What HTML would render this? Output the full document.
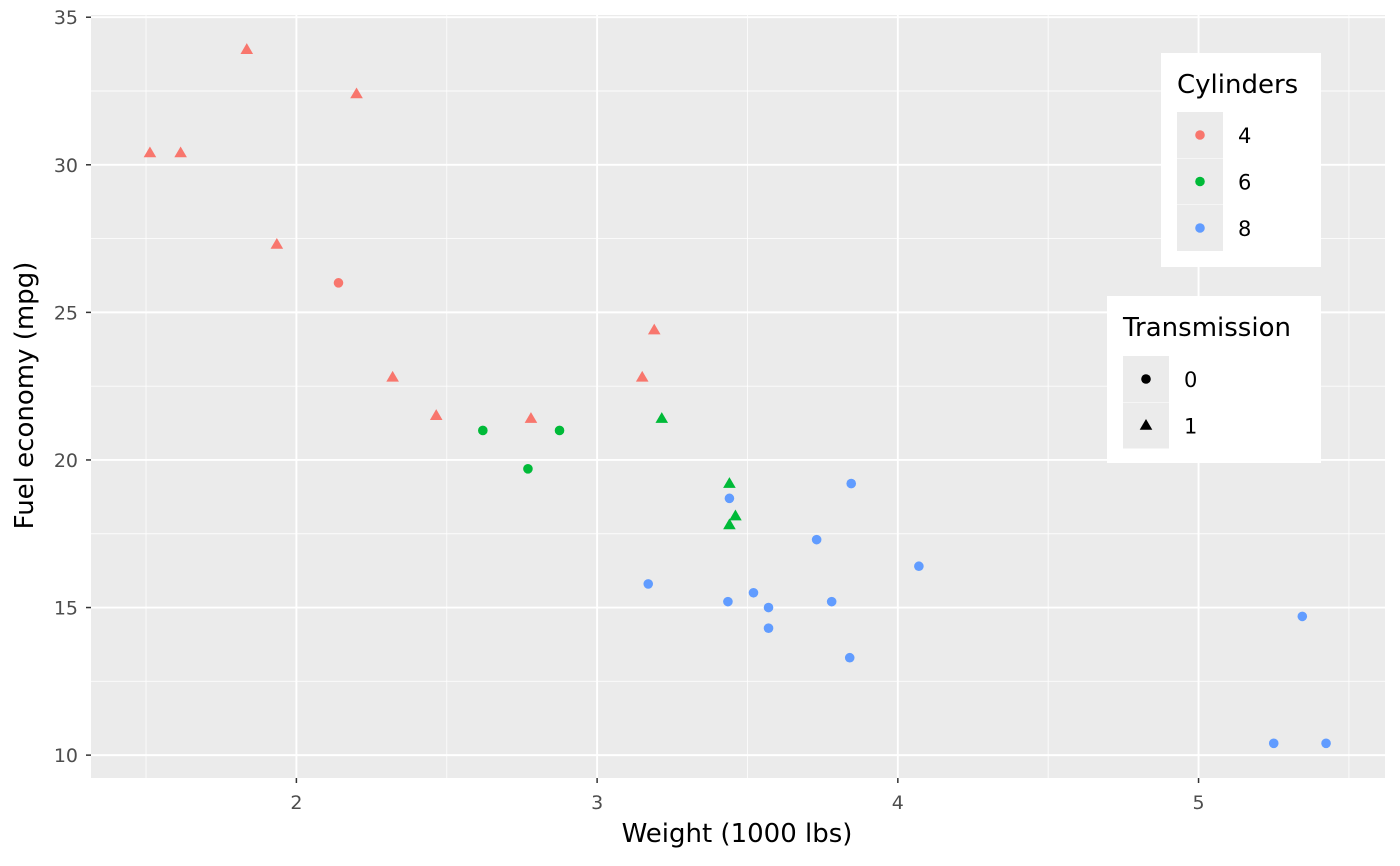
<!DOCTYPE html>
<html><head><meta charset="utf-8"><style>
body{margin:0;background:#fff;}
svg{display:block;font-family:"DejaVu Sans","Liberation Sans",sans-serif;}
</style></head><body>
<svg id="chart" width="1400" height="866"></svg>
<script>
const weights=[2.620,2.875,2.320,3.215,3.440,3.460,3.570,3.190,3.150,3.440,3.440,4.070,3.730,3.780,5.250,5.424,5.345,2.200,1.615,1.835,2.465,3.520,3.435,3.840,3.845,1.935,2.140,1.513,3.170,2.770,3.570,2.780];
const mpgs=[21.0,21.0,22.8,21.4,18.7,18.1,14.3,24.4,22.8,19.2,17.8,16.4,17.3,15.2,10.4,10.4,14.7,32.4,30.4,33.9,21.5,15.5,15.2,13.3,19.2,27.3,26.0,30.4,15.8,19.7,15.0,21.4];
const cyls=[6,6,4,6,8,6,8,4,4,6,6,8,8,8,8,8,8,4,4,4,4,8,8,8,8,4,4,4,8,6,8,4];
const trans=[0,0,1,1,0,1,0,1,1,1,1,0,0,0,0,0,0,1,1,1,1,0,0,0,0,1,0,1,0,0,0,1];
const xTicks=[2,3,4,5];
const yTicks=[10,15,20,25,30,35];
const xMinor=[1.5,2.5,3.5,4.5,5.5];
const yMinor=[12.5,17.5,22.5,27.5,32.5];
const cylLevels=[4,6,8];
const cylColors=["#F8766D","#00BA38","#619CFF"];

const NS="http://www.w3.org/2000/svg";
const svg=document.getElementById('chart');
const PL=91,PR=1385,PT=15,PB=778;
const X0=1.317,X1=5.62,Y0=9.225,Y1=35.075;
const sx=v=>PL+(v-X0)/(X1-X0)*(PR-PL);
const sy=v=>PB-(v-Y0)/(Y1-Y0)*(PB-PT);
function mk(tag,attrs,parent){const e=document.createElementNS(NS,tag);for(const k in attrs)e.setAttribute(k,attrs[k]);(parent||svg).appendChild(e);return e;}

const bg=mk('rect',{x:PL,y:PT,width:PR-PL,height:PB-PT,fill:'#EBEBEB'});


xMinor.forEach(v=>{const l=mk('line',{x1:sx(v),x2:sx(v),y1:PT,y2:PB,stroke:'#fff','stroke-width':0.9,opacity:0.85});});
yMinor.forEach(v=>{const l=mk('line',{y1:sy(v),y2:sy(v),x1:PL,x2:PR,stroke:'#fff','stroke-width':0.9,opacity:0.85});});
xTicks.forEach(v=>{
 const l=mk('line',{x1:sx(v),x2:sx(v),y1:PT,y2:PB,stroke:'#fff','stroke-width':1.9});
 
 mk('line',{x1:sx(v),x2:sx(v),y1:PB,y2:PB+5,stroke:'#333','stroke-width':1.5});
 const t=mk('text',{x:sx(v),y:PB+31,'text-anchor':'middle','font-size':19,fill:'#4D4D4D'});t.textContent=v;
 
});
yTicks.forEach(v=>{
 const l=mk('line',{y1:sy(v),y2:sy(v),x1:PL,x2:PR,stroke:'#fff','stroke-width':1.9});
 
 mk('line',{y1:sy(v),y2:sy(v),x1:PL-5,x2:PL,stroke:'#333','stroke-width':1.5});
 const t=mk('text',{x:PL-13,y:sy(v)+7,'text-anchor':'end','font-size':19,fill:'#4D4D4D'});t.textContent=v;
 
});
function shape(x,y,s,col,parent){
 if(s===0) return mk('circle',{cx:x,cy:y,r:4.8,fill:col},parent);
 return mk('polygon',{points:`${x},${y-6.5} ${x-6.3},${y+4.3} ${x+6.3},${y+4.3}`,fill:col},parent);
}
weights.forEach((w,i)=>{
 const p=shape(sx(w),sy(mpgs[i]),trans[i],cylColors[cylLevels.indexOf(cyls[i])]);
 
});
const xt=mk('text',{x:(PL+PR)/2-1,y:842,'text-anchor':'middle','font-size':26,fill:'#000'});xt.textContent='Weight (1000 lbs)';

const yt=mk('text',{x:0,y:0,'text-anchor':'middle','font-size':26,fill:'#000',transform:`translate(33,${(PT+PB)/2-1}) rotate(-90)`});yt.textContent='Fuel economy (mpg)';


// legends
const g1=mk('g',{});
mk('rect',{x:1161,y:53,width:160,height:214,fill:'#fff'},g1);
const t1=mk('text',{x:1177,y:93,'font-size':26},g1);t1.textContent='Cylinders';
cylLevels.forEach((c,i)=>{
 const y=135+i*46.5;
 mk('rect',{x:1177,y:y-23,width:46,height:46,fill:'#EBEBEB'},g1);
 const d=mk('circle',{cx:1200,cy:y,r:4.8,fill:cylColors[i]},g1);
 
 const t=mk('text',{x:1238,y:y+8,'font-size':21},g1);t.textContent=c;
});
const g2=mk('g',{});
mk('rect',{x:1107,y:296,width:214,height:167,fill:'#fff'},g2);
const t2=mk('text',{x:1123,y:336,'font-size':26},g2);t2.textContent='Transmission';
[0,1].forEach((s,i)=>{
 const y=379+i*46.5;
 mk('rect',{x:1123,y:y-23,width:46,height:46,fill:'#EBEBEB'},g2);
 const d=shape(1146,y,s,'#000',g2);
 
 const t=mk('text',{x:1184,y:y+8,'font-size':21},g2);t.textContent=s;
});
</script>
</body></html>
